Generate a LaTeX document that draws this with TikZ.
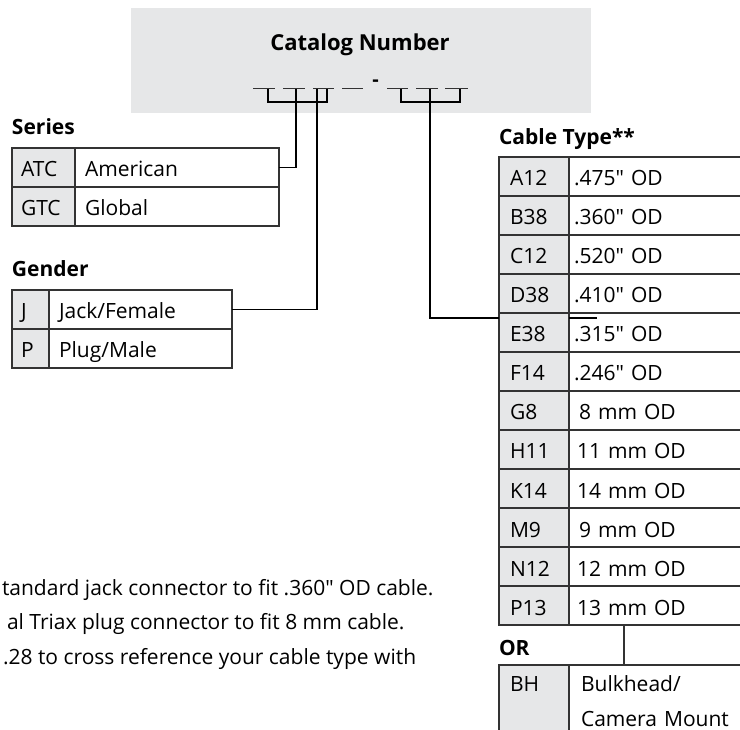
\documentclass[tikz,border=0pt]{standalone}
\usepackage{fontspec}
\setmainfont{Open Sans}
\usetikzlibrary{positioning}
\definecolor{cellgray}{HTML}{E6E7E8}
\definecolor{rulegray}{HTML}{333333}
\newcommand{\inch}{\textquotedbl}

\begin{document}
\begin{tikzpicture}[x=1pt,y=-1pt,
    every node/.style={outer sep=0pt},
    cell/.style={draw=rulegray, line width=1.2pt, minimum height=39pt, inner ysep=0pt,
      text height=22pt, text depth=3pt, align=left, font=\fontsize{21}{25}\selectfont},
    code/.style={cell, fill=cellgray},
    sercode/.style={code, inner xsep=9pt, text width=45pt},
    serval/.style={cell, inner xsep=10pt, text width=184pt},
    gencode/.style={code, inner xsep=9pt, text width=19pt},
    genval/.style={cell, inner xsep=10pt, text width=163pt},
    cabcode/.style={code, inner xsep=11pt, text width=48pt},
    cabval/.style={cell, inner xsep=5pt, text width=166pt},
    heading/.style={anchor=base west, inner sep=0pt, font=\bfseries\fontsize{21}{25}\selectfont},
    note/.style={anchor=base west, inner sep=0pt, font=\fontsize{21}{25}\selectfont},
    link/.style={line width=1.2pt},
    slot/.style={line width=1pt, draw=rulegray}]
  \useasboundingbox (0,0) rectangle (740,730);
  \clip (0,0) rectangle (740,730);

  \node (catbox) [fill=cellgray, anchor=north west, inner sep=0pt,
    minimum width=460pt, minimum height=105pt] at (131,8) {};
  \node (title) [anchor=base, inner sep=0pt, font=\bfseries\fontsize{22}{26}\selectfont]
    at (360,51) {Catalog Number};
  \node (hyphen) [anchor=base, inner sep=0pt, font=\bfseries\fontsize{20}{24}\selectfont]
    at (375.5,87) {-};

  \draw [slot] (253,89) -- (275,89);
  \draw [slot] (283,89) -- (305,89);
  \draw [slot] (313,89) -- (334,89);
  \draw [slot] (342,89) -- (363,89);
  \draw [slot] (387,89) -- (408,89);
  \draw [slot] (416,89) -- (438,89);
  \draw [slot] (445,89) -- (468,89);
  \draw [link] (268,89) -- (268,102) -- (327,102) -- (327,89);
  \draw [link] (401,89) -- (401,102) -- (460,102) -- (460,89);
  \coordinate (serdrop) at (296,89);
  \coordinate (gendrop) at (317,89);
  \coordinate (cabdrop) at (430,89);

  \node (series) [heading] at (12,135) {Series};
  \node (atc) [sercode, anchor=north west] at (12,148) {ATC};
  \node (american) [serval, right=0pt of atc] {American};
  \node (gtc) [sercode, below=0pt of atc] {GTC};
  \node (global) [serval, right=0pt of gtc] {Global};

  \node (gender) [heading] at (12,277) {Gender};
  \node (j) [gencode, anchor=north west] at (12,290) {J};
  \node (jack) [genval, right=0pt of j] {Jack/Female};
  \node (p) [gencode, below=0pt of j] {P};
  \node (plug) [genval, right=0pt of p] {Plug/Male};

  \node (cabletype) [heading] at (499,145) {Cable Type**};
  \node (a12) [cabcode, anchor=north west] at (499,157) {A12};
  \node (a12val) [cabval, right=0pt of a12] {.475\inch{} OD};
  \node (b38) [cabcode, below=0pt of a12] {B38};
  \node (b38val) [cabval, right=0pt of b38] {.360\inch{} OD};
  \node (c12) [cabcode, below=0pt of b38] {C12};
  \node (c12val) [cabval, right=0pt of c12] {.520\inch{} OD};
  \node (d38) [cabcode, below=0pt of c12] {D38};
  \node (d38val) [cabval, right=0pt of d38] {.410\inch{} OD};
  \node (e38) [cabcode, below=0pt of d38] {E38};
  \node (e38val) [cabval, right=0pt of e38] {.315\inch{} OD};
  \node (f14) [cabcode, below=0pt of e38] {F14};
  \node (f14val) [cabval, right=0pt of f14] {.246\inch{} OD};
  \node (g8) [cabcode, below=0pt of f14] {G8};
  \node (g8val) [cabval, right=0pt of g8] {\hspace{5pt}8 mm OD};
  \node (h11) [cabcode, below=0pt of g8] {H11};
  \node (h11val) [cabval, right=0pt of h11] {\hspace{3pt}11 mm OD};
  \node (k14) [cabcode, below=0pt of h11] {K14};
  \node (k14val) [cabval, right=0pt of k14] {\hspace{3pt}14 mm OD};
  \node (m9) [cabcode, below=0pt of k14] {M9};
  \node (m9val) [cabval, right=0pt of m9] {\hspace{5pt}9 mm OD};
  \node (n12) [cabcode, below=0pt of m9] {N12};
  \node (n12val) [cabval, right=0pt of n12] {\hspace{3pt}12 mm OD};
  \node (p13) [cabcode, below=0pt of n12] {P13};
  \node (p13val) [cabval, right=0pt of p13] {\hspace{3pt}13 mm OD};

  \node (or) [heading] at (499,655) {OR};
  \node (bh) [cabcode, anchor=north west, inner ysep=4pt, text depth=50pt] at (499,665) {BH};
  \node (bhval) [cabval, right=0pt of bh, inner ysep=4pt, text depth=50pt,
    inner xsep=12pt, text width=152pt, font=\fontsize{21}{35}\selectfont]
    {Bulkhead/\\Camera Mount};

  \draw [link] (serdrop) |- (american.east);
  \draw [link] (gendrop) |- (jack.east);
  \draw [link] (cabdrop) |- ([yshift=-5pt]e38.north west);
  \draw [link] ([yshift=-5pt]e38val.north west) -- ++(28,0);
  \draw [link, draw=rulegray] ([xshift=55pt]p13val.south west) -- ([xshift=55pt]bhval.north west);

  \node (note1) [note] at (2,595) {tandard jack connector to fit .360\inch{} OD cable.};
  \node (note2) [note] at (7,629) {al Triax plug connector to fit 8 mm cable.};
  \node (note3) [note] at (3,664) {.28 to cross reference your cable type with};
\end{tikzpicture}
\end{document}
